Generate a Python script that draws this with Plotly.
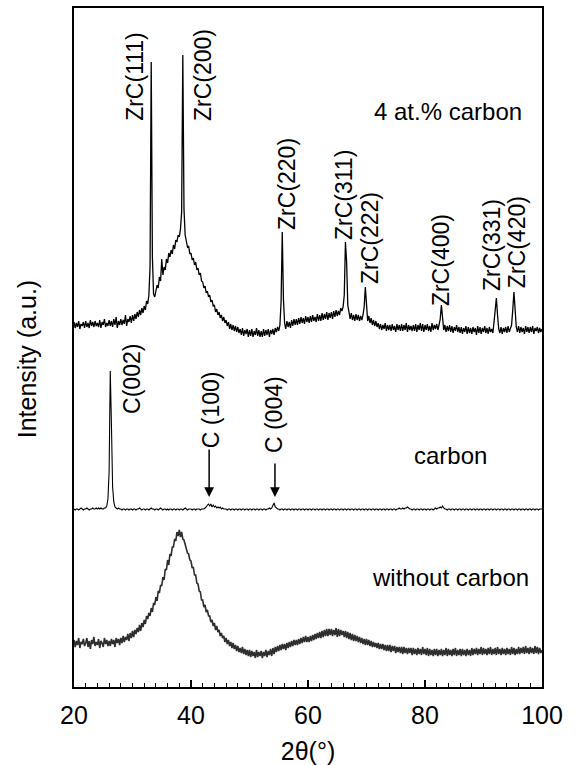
import plotly.graph_objects as go

# 2-theta scan grid (0.2 deg step, 20..100)
two_theta = [round(20 + 0.2 * i, 1) for i in range(401)]

# ---- 4 at.% carbon (offset intensity, a.u.) ----
i_4at = [
    365, 359, 364, 360, 366, 358, 363, 361, 365, 359,
    366, 360, 364, 359, 367, 361, 365, 360, 366, 361,
    364, 360, 367, 359, 365, 362, 368, 360, 364, 361,
    367, 361, 366, 360, 368, 362, 370, 359, 366, 362,
    368, 362, 367, 363, 372, 361, 368, 365, 371, 364,
    372, 366, 373, 368, 375, 370, 377, 372, 379, 374,
    381, 377, 386, 383, 392, 420, 625, 430, 393, 390,
    396, 402, 399, 410, 406, 428, 412, 420, 417, 428,
    424, 434, 430, 437, 433, 442, 438, 447, 445, 452,
    450, 458, 475, 632, 478, 452, 446, 440, 441, 433,
    434, 427, 429, 422, 425, 417, 419, 412, 414, 406,
    405, 399, 401, 394, 396, 390, 392, 385, 387, 381,
    382, 375, 378, 372, 375, 369, 372, 366, 370, 364,
    367, 361, 365, 358, 363, 357, 362, 356, 361, 355,
    360, 354, 358, 352, 359, 351, 357, 353, 358, 350,
    357, 351, 358, 350, 356, 352, 359, 351, 357, 350,
    356, 350, 358, 351, 357, 352, 358, 350, 357, 353,
    358, 352, 359, 355, 360, 356, 362, 385, 455, 388,
    364, 358, 366, 360, 365, 359, 367, 361, 368, 362,
    368, 362, 369, 363, 370, 364, 369, 363, 371, 365,
    370, 364, 371, 365, 372, 366, 370, 365, 373, 366,
    372, 366, 374, 367, 373, 368, 375, 367, 374, 369,
    375, 368, 376, 370, 377, 371, 376, 372, 379, 376,
    380, 392, 445, 425, 382, 373, 368, 374, 367, 372,
    366, 373, 367, 372, 366, 371, 367, 372, 380, 400,
    378, 366, 371, 364, 369, 362, 367, 361, 366, 360,
    364, 358, 363, 357, 362, 358, 364, 356, 362, 357,
    362, 356, 363, 357, 361, 355, 363, 357, 362, 356,
    363, 356, 362, 357, 364, 355, 362, 357, 361, 356,
    362, 356, 363, 355, 362, 357, 364, 356, 363, 355,
    362, 357, 363, 356, 361, 355, 364, 357, 362, 358,
    363, 357, 362, 368, 382, 366, 357, 362, 355, 361,
    356, 362, 355, 361, 354, 360, 356, 362, 355, 360,
    354, 360, 353, 359, 355, 361, 353, 360, 354, 359,
    353, 360, 355, 359, 352, 361, 354, 360, 353, 359,
    355, 361, 354, 359, 353, 360, 355, 358, 354, 365,
    378, 389, 372, 358, 354, 360, 353, 359, 355, 360,
    354, 361, 355, 359, 362, 377, 395, 378, 360, 355,
    361, 354, 360, 355, 359, 353, 361, 355, 360, 354,
    360, 355, 361, 353, 359, 356, 360, 354, 359, 355,
    358,
]

# ---- carbon ----
i_carbon = [
    178, 177, 178, 178, 177, 178, 179, 178, 177, 178,
    178, 179, 178, 177, 178, 178, 179, 178, 178, 179,
    178, 179, 178, 179, 178, 178, 179, 179, 181, 188,
    215, 316, 262, 200, 185, 180, 179, 178, 179, 178,
    178, 177, 178, 178, 177, 178, 178, 177, 178, 178,
    177, 178, 178, 177, 178, 178, 179, 178, 177, 178,
    178, 177, 178, 178, 177, 178, 179, 178, 178, 177,
    178, 178, 177, 178, 179, 178, 177, 178, 178, 177,
    178, 177, 178, 178, 177, 178, 178, 177, 178, 178,
    177, 178, 178, 177, 178, 179, 178, 177, 178, 178,
    178, 177, 178, 178, 177, 178, 178, 178, 177, 178,
    178, 178, 179, 180, 182, 183, 181, 183, 180, 182,
    180, 181, 179, 180, 179, 180, 178, 179, 178, 178,
    178, 177, 178, 178, 177, 178, 178, 177, 178, 178,
    177, 178, 178, 177, 178, 178, 177, 178, 178, 177,
    178, 178, 177, 178, 178, 177, 178, 178, 177, 178,
    178, 177, 178, 178, 177, 178, 178, 179, 178, 179,
    181, 184, 180, 179, 178, 178, 177, 178, 178, 177,
    178, 178, 177, 178, 178, 177, 178, 178, 177, 178,
    178, 177, 178, 178, 177, 178, 178, 177, 178, 178,
    177, 178, 178, 177, 178, 178, 177, 178, 178, 177,
    178, 178, 177, 178, 178, 177, 178, 178, 177, 178,
    178, 177, 178, 178, 177, 178, 178, 177, 178, 178,
    177, 178, 178, 177, 178, 178, 177, 178, 178, 177,
    178, 178, 177, 178, 178, 177, 178, 178, 177, 178,
    178, 177, 178, 178, 177, 178, 178, 177, 178, 178,
    177, 178, 178, 177, 178, 178, 177, 178, 178, 177,
    178, 178, 177, 178, 178, 177, 178, 178, 179, 178,
    178, 179, 178, 179, 179, 180, 179, 178, 178, 177,
    178, 178, 177, 178, 178, 177, 178, 178, 177, 178,
    178, 177, 178, 178, 177, 178, 178, 177, 178, 179,
    178, 179, 179, 180, 179, 181, 179, 178, 178, 177,
    178, 178, 177, 178, 178, 177, 178, 178, 177, 178,
    178, 177, 178, 178, 177, 178, 178, 177, 178, 178,
    177, 178, 178, 177, 178, 178, 177, 178, 178, 177,
    178, 178, 177, 178, 178, 177, 178, 178, 177, 178,
    178, 177, 178, 178, 177, 178, 178, 177, 178, 178,
    177, 178, 178, 177, 178, 178, 177, 178, 178, 177,
    178, 178, 177, 178, 178, 177, 178, 178, 177, 178,
    178, 177, 178, 178, 177, 178, 178, 177, 178, 178,
    178,
]

# ---- without carbon ----
i_without = [
    47, 40, 46, 42, 49, 39, 45, 43, 48, 41,
    44, 49, 40, 46, 38, 47, 43, 50, 41, 45,
    42, 48, 39, 46, 44, 40, 49, 43, 47, 41,
    46, 41, 48, 43, 47, 40, 49, 44, 48, 42,
    49, 44, 51, 45, 50, 47, 53, 46, 54, 49,
    56, 50, 57, 53, 59, 55, 62, 56, 64, 60,
    67, 63, 71, 68, 74, 71, 79, 75, 84, 82,
    90, 86, 96, 94, 102, 101, 110, 107, 118, 117,
    127, 122, 133, 131, 140, 140, 148, 146, 155, 151,
    157, 150, 155, 148, 147, 142, 140, 134, 133, 127,
    126, 119, 120, 112, 112, 104, 103, 96, 95, 87,
    87, 80, 82, 75, 77, 71, 71, 65, 67, 61,
    64, 57, 61, 55, 57, 51, 54, 49, 51, 45,
    49, 43, 47, 41, 45, 39, 44, 38, 42, 36,
    41, 35, 39, 34, 40, 33, 38, 32, 37, 31,
    37, 30, 36, 31, 35, 29, 37, 30, 35, 31,
    36, 29, 35, 31, 37, 30, 36, 32, 38, 31,
    39, 33, 40, 35, 41, 36, 42, 37, 43, 38,
    43, 37, 44, 39, 45, 40, 46, 41, 47, 42,
    47, 42, 48, 43, 49, 44, 50, 45, 51, 45,
    50, 45, 51, 46, 52, 47, 53, 48, 54, 49,
    55, 49, 56, 50, 57, 51, 58, 51, 58, 52,
    58, 51, 57, 52, 59, 50, 58, 51, 57, 52,
    56, 50, 56, 49, 55, 48, 54, 47, 53, 46,
    52, 46, 51, 45, 50, 44, 49, 43, 48, 42,
    48, 42, 47, 41, 46, 40, 45, 40, 44, 39,
    44, 38, 43, 38, 43, 37, 42, 36, 42, 36,
    42, 35, 41, 36, 41, 34, 40, 35, 40, 34,
    40, 33, 40, 34, 39, 33, 39, 34, 39, 32,
    39, 33, 38, 32, 39, 33, 38, 32, 40, 33,
    38, 32, 39, 31, 38, 32, 37, 31, 38, 32,
    38, 31, 37, 32, 38, 31, 37, 32, 39, 31,
    38, 32, 37, 31, 38, 32, 39, 31, 37, 32,
    38, 31, 38, 32, 37, 31, 38, 32, 37, 31,
    39, 32, 38, 33, 39, 32, 38, 33, 40, 32,
    39, 33, 38, 32, 39, 33, 40, 32, 38, 33,
    39, 32, 40, 33, 38, 32, 39, 33, 38, 32,
    39, 33, 38, 32, 40, 33, 39, 32, 38, 33,
    40, 33, 39, 34, 40, 33, 41, 34, 39, 33,
    40, 34, 39, 33, 41, 34, 40, 33, 39, 34,
    37,
]

# Peak labels (text, 2theta, intensity at label centre)
zrc_labels = ["ZrC(111)", "ZrC(200)", "ZrC(220)", "ZrC(311)", "ZrC(222)",
              "ZrC(400)", "ZrC(331)", "ZrC(420)"]
zrc_label_x = [30.4, 42.05, 56.4, 66.15, 70.6, 82.75, 91.45, 95.75]
zrc_label_y = [611, 612, 503, 492, 449, 427, 442, 445]

c_labels = ["C(002)", "C (100)", "C (004)"]
c_label_x = [29.9, 43.45, 54.2]
c_label_y = [308, 277, 272]

arrow_x = [43.1, 54.35]
arrow_tail_y = [239, 225]
arrow_tip_y = [190, 190]

sample_names = ["4 at.% carbon", "carbon", "without carbon"]
sample_x = [83.9, 84.4, 84.4]
sample_y = [576, 232, 110]

FONT = "Arial, Liberation Sans, sans-serif"

fig = go.Figure()
fig.add_trace(go.Scatter(x=two_theta, y=i_without, mode="lines",
                         line=dict(color="#2e2e2e", width=1.6), showlegend=False))
fig.add_trace(go.Scatter(x=two_theta, y=i_carbon, mode="lines",
                         line=dict(color="black", width=1.1), showlegend=False))
fig.add_trace(go.Scatter(x=two_theta, y=i_4at, mode="lines",
                         line=dict(color="black", width=1.3), showlegend=False))

annotations = []
for t, x, y in zip(zrc_labels + c_labels, zrc_label_x + c_label_x, zrc_label_y + c_label_y):
    annotations.append(dict(text=t, x=x, y=y, xref="x", yref="y", showarrow=False,
                            textangle=-90, xanchor="center", yanchor="middle",
                            font=dict(family=FONT, size=23, color="black")))
for x, y0, y1 in zip(arrow_x, arrow_tail_y, arrow_tip_y):
    annotations.append(dict(text="", x=x, y=y1, ax=x, ay=y0, xref="x", yref="y",
                            axref="x", ayref="y", showarrow=True, arrowhead=2,
                            arrowsize=1.3, arrowwidth=1.5, arrowcolor="black"))
for t, x, y in zip(sample_names, sample_x, sample_y):
    annotations.append(dict(text=t, x=x, y=y, xref="x", yref="y", showarrow=False,
                            xanchor="center", yanchor="middle",
                            font=dict(family=FONT, size=24, color="black")))
annotations.append(dict(text="Intensity (a.u.)", x=-0.1, y=0.483, xref="paper", yref="paper",
                        showarrow=False, textangle=-90, xanchor="center", yanchor="middle",
                        font=dict(family=FONT, size=25, color="black")))

fig.update_layout(
    width=580, height=765,
    margin=dict(l=74, r=38, t=8, b=78),
    paper_bgcolor="white", plot_bgcolor="white",
    annotations=annotations,
    font=dict(family=FONT, color="black"),
)
fig.update_xaxes(
    range=[20, 100], tickvals=[20, 40, 60, 80, 100], ticks="inside", ticklen=7,
    tickwidth=1.5, tickcolor="black", ticklabelstandoff=5, automargin=False,
    minor=dict(dtick=2, ticks="inside", ticklen=4, tickwidth=1, tickcolor="black"),
    showline=True, linecolor="black", linewidth=1.5, mirror=True, showgrid=False,
    zeroline=False, tickfont=dict(family=FONT, size=25, color="black"),
    title=dict(text="2θ(°)", font=dict(family=FONT, size=25, color="black"), standoff=16),
)
fig.update_yaxes(
    range=[0, 679], showticklabels=False, ticks="", showline=True, linecolor="black",
    linewidth=1.5, mirror=True, showgrid=False, zeroline=False, automargin=False,
)

fig.write_html("out.html")
